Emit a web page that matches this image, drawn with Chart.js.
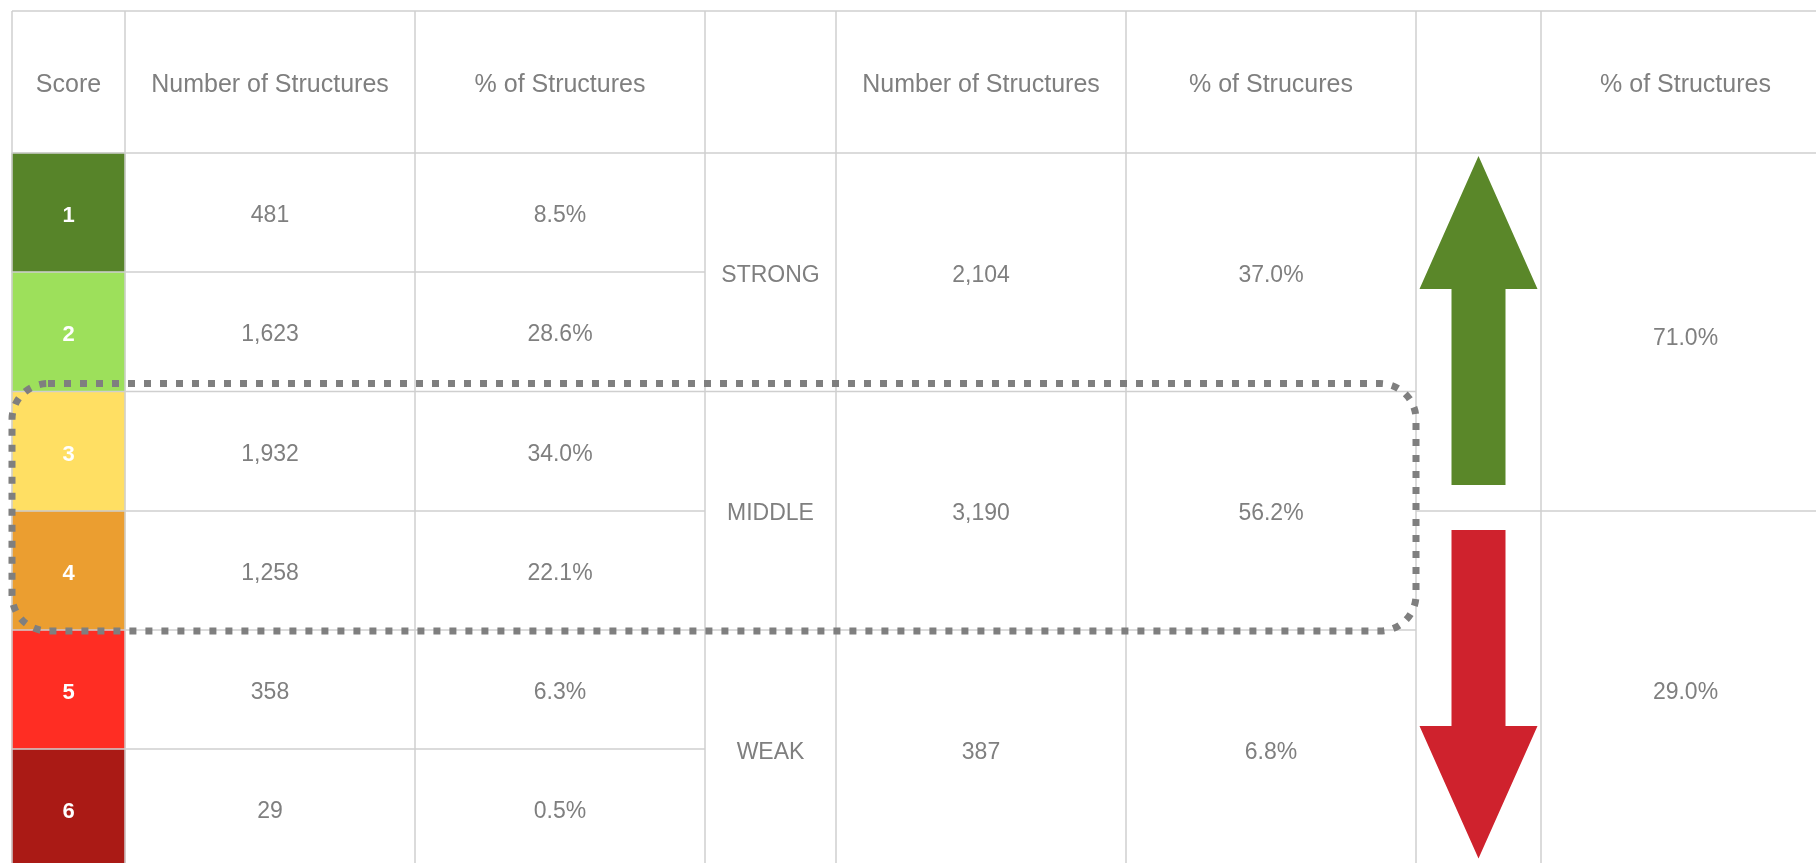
<!DOCTYPE html>
<html>
<head>
<meta charset="utf-8">
<script src="https://cdn.jsdelivr.net/npm/chart.js@4.4.1/dist/chart.umd.min.js"></script>
<style>
  html, body { margin: 0; padding: 0; background: #fff; }
  #wrap { width: 1816px; height: 863px; }
</style>
</head>
<body>
<div id="wrap"><canvas id="scoreTable"></canvas></div>
<script>
/* Structure score table, drawn on Chart.js linear scales */

// ── data ──
const scores = ['1', '2', '3', '4', '5', '6'];
const scoreColors = ['#578429', '#9DE05B', '#FFDF63', '#EB9E30', '#FF2D23', '#AA1A15'];
const counts = [481, 1623, 1932, 1258, 358, 29];
const shares = [8.5, 28.6, 34.0, 22.1, 6.3, 0.5];
const groups = ['STRONG', 'MIDDLE', 'WEAK'];
const groupCounts = [2104, 3190, 387];
const groupShares = [37.0, 56.2, 6.8];
const trendShares = [71.0, 29.0];
const headers = ['Score', 'Number of Structures', '% of Structures', '', 'Number of Structures', '% of Strucures', '', '% of Structures'];

// ── layout (scale units == css px) ──
const W = 1816, H = 863;
const colEdges = [12, 125, 415, 705, 836, 1126, 1416, 1541, 1830];
const rowEdges = [11, 153, 272, 391.5, 511, 630, 749, 868.5];
const lineColor = '#cfcfcf';
const textColor = '#7f7f7f';
const fontFamily = "'Liberation Sans', Arial, sans-serif";
const headSize = 25, cellSize = 23, scoreSize = 22;

const fmtNum = n => n.toLocaleString('en-US');
const fmtPct = p => p.toFixed(1) + '%';
const rowMid = i => (rowEdges[i + 1] + rowEdges[i + 2]) / 2;   // data row i (0..5)
const colMid = c => (colEdges[c] + colEdges[c + 1]) / 2;

const tablePlugin = {
    id: 'tablePlugin',
    afterDatasetsDraw(chart) {
        const { ctx, scales: { x, y } } = chart;
        const px = v => x.getPixelForValue(v);
        const py = v => y.getPixelForValue(v);

        // grid lines
        ctx.save();
        ctx.strokeStyle = lineColor;
        ctx.lineWidth = 1.5;
        const hLine = (yy, x0, x1) => { ctx.beginPath(); ctx.moveTo(px(x0), py(yy)); ctx.lineTo(px(x1), py(yy)); ctx.stroke(); };
        const vLine = (xx, y0, y1) => { ctx.beginPath(); ctx.moveTo(px(xx), py(y0)); ctx.lineTo(px(xx), py(y1)); ctx.stroke(); };
        const right = colEdges[colEdges.length - 1];
        hLine(rowEdges[0], colEdges[0], right);
        hLine(rowEdges[1], colEdges[0], right);
        for (let r = 2; r < rowEdges.length; r++) hLine(rowEdges[r], colEdges[0], colEdges[3]);
        [3, 5].forEach(r => hLine(rowEdges[r], colEdges[3], colEdges[6]));
        hLine(rowEdges[4], colEdges[6], right);
        colEdges.forEach(c => vLine(c, rowEdges[0], rowEdges[rowEdges.length - 1]));
        ctx.restore();

        // arrows
        const cx = colMid(6);
        const shaftHalf = 27, headHalf = 59;
        const arrow = (tip, neck, tail, color) => {
            ctx.beginPath();
            ctx.moveTo(px(cx), py(tip));
            ctx.lineTo(px(cx + headHalf), py(neck));
            ctx.lineTo(px(cx + shaftHalf), py(neck));
            ctx.lineTo(px(cx + shaftHalf), py(tail));
            ctx.lineTo(px(cx - shaftHalf), py(tail));
            ctx.lineTo(px(cx - shaftHalf), py(neck));
            ctx.lineTo(px(cx - headHalf), py(neck));
            ctx.closePath();
            ctx.fillStyle = color;
            ctx.fill();
        };
        arrow(rowEdges[1] + 3, 289, 485, '#5A8729');
        arrow(rowEdges[7] - 10, 726, 530, '#CF222D');

        // text: baseline placed so the cap height sits centred on the cell middle
        ctx.save();
        ctx.textAlign = 'center';
        ctx.textBaseline = 'alphabetic';
        let size = cellSize;
        const put = (t, xx, yy) => ctx.fillText(t, px(xx), py(yy) + 1.5 + size * 0.358);
        ctx.fillStyle = textColor;

        size = headSize;
        ctx.font = headSize + 'px ' + fontFamily;
        const headMid = (rowEdges[0] + rowEdges[1]) / 2;
        headers.forEach((h, c) => { if (h) put(h, colMid(c), headMid); });

        size = cellSize;
        ctx.font = cellSize + 'px ' + fontFamily;
        counts.forEach((v, i) => put(fmtNum(v), colMid(1), rowMid(i)));
        shares.forEach((v, i) => put(fmtPct(v), colMid(2), rowMid(i)));
        groups.forEach((g, k) => {
            const yy = (rowEdges[1 + 2 * k] + rowEdges[3 + 2 * k]) / 2;
            put(g, colMid(3), yy);
            put(fmtNum(groupCounts[k]), colMid(4), yy);
            put(fmtPct(groupShares[k]), colMid(5), yy);
        });
        put(fmtPct(trendShares[0]), colMid(7), (rowEdges[1] + rowEdges[4]) / 2 + 3);
        put(fmtPct(trendShares[1]), colMid(7), (rowEdges[4] + rowEdges[7]) / 2);

        size = scoreSize;
        ctx.fillStyle = '#ffffff';
        ctx.font = 'bold ' + scoreSize + 'px ' + fontFamily;
        scores.forEach((s, i) => put(s, colMid(0), rowMid(i)));
        ctx.restore();

        // dotted rounded box round the middle group
        const bx0 = colEdges[0], bx1 = colEdges[6];
        const by0 = rowEdges[3] - 8, by1 = rowEdges[5] + 1;
        ctx.save();
        ctx.strokeStyle = '#7f7f7f';
        ctx.lineWidth = 7;
        ctx.setLineDash([7, 9]);
        ctx.beginPath();
        ctx.roundRect(px(bx0), py(by0), px(bx1) - px(bx0), py(by1) - py(by0), 36);
        ctx.stroke();
        ctx.restore();
    }
};

new Chart(document.getElementById('scoreTable'), {
    type: 'bar',
    data: {
        datasets: [{
            label: 'Score',
            data: scores.map((s, i) => ({ y: rowMid(i), x: [colEdges[0], colEdges[1]] })),
            backgroundColor: scoreColors,
            borderWidth: 0,
            categoryPercentage: 1,
            barPercentage: 1
        }]
    },
    options: {
        indexAxis: 'y',
        responsive: true,
        maintainAspectRatio: false,
        animation: false,
        events: [],
        layout: { padding: 0 },
        plugins: { legend: { display: false }, tooltip: { enabled: false } },
        scales: {
            x: { type: 'linear', min: 0, max: W, display: false, offset: false, ticks: { stepSize: W } },
            y: { type: 'linear', min: 0, max: H, reverse: true, display: false, offset: false, ticks: { stepSize: H } }
        }
    },
    plugins: [tablePlugin]
});
</script>
</body>
</html>
